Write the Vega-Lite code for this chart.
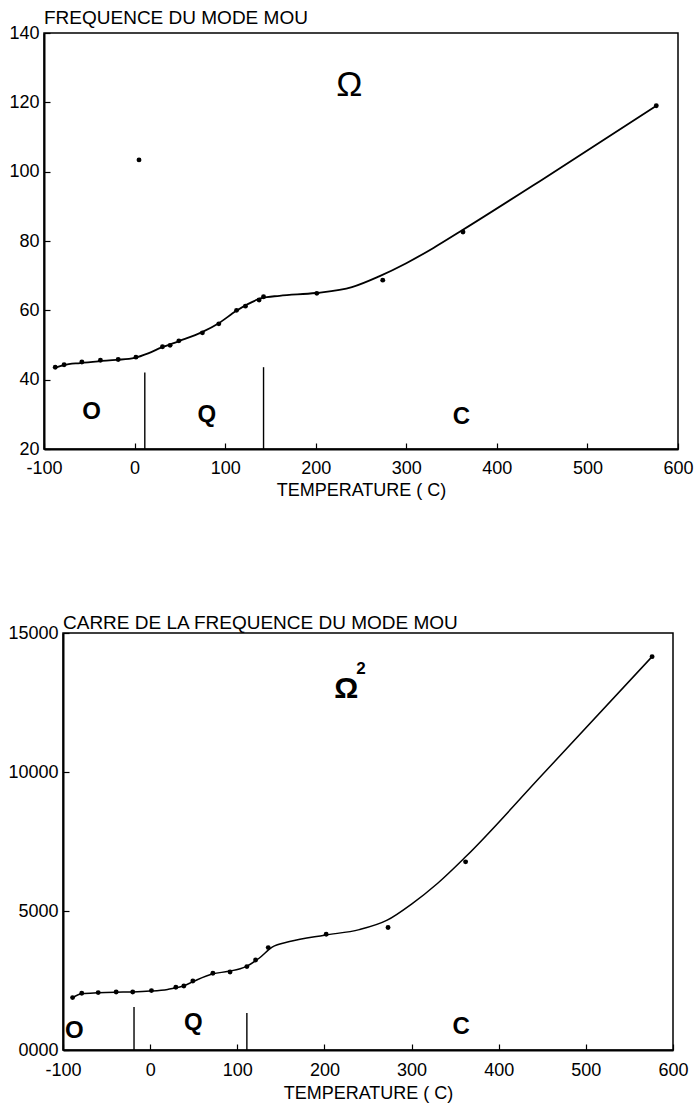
{
  "$schema": "https://vega.github.io/schema/vega-lite/v6.json",
  "background": "white",
  "padding": {"top": 8, "left": 0, "right": 4, "bottom": 2},
  "config": {
    "font": "Liberation Sans",
    "view": {"stroke": "black", "strokeWidth": 1.5},
    "axis": {
      "grid": false,
      "domainColor": "black",
      "domainWidth": 2,
      "tickColor": "black",
      "tickWidth": 1.2,
      "tickSize": -6,
      "labelColor": "black",
      "labelFont": "Liberation Sans",
      "labelFontSize": 18,
      "titleColor": "black",
      "titleFont": "Liberation Sans",
      "titleFontSize": 18,
      "titleFontWeight": "normal"
    },
    "title": {"anchor": "start", "frame": "group", "fontSize": 19, "fontWeight": "normal", "color": "black", "font": "Liberation Sans", "offset": -4}
  },
  "datasets": {
    "p1curve": [
      {"t": -88, "v": 43.4}, {"t": -78, "v": 44.2}, {"t": -60, "v": 44.8}, {"t": -40, "v": 45.3},
      {"t": -20, "v": 45.7}, {"t": 0, "v": 46.3}, {"t": 15, "v": 47.6}, {"t": 30, "v": 49.3},
      {"t": 50, "v": 51.2}, {"t": 75, "v": 53.8}, {"t": 93, "v": 56.3}, {"t": 112, "v": 59.8},
      {"t": 125, "v": 61.8}, {"t": 140, "v": 63.5}, {"t": 160, "v": 64.2}, {"t": 200, "v": 65.0},
      {"t": 240, "v": 66.7}, {"t": 270, "v": 69.8}, {"t": 300, "v": 73.6}, {"t": 330, "v": 78.0},
      {"t": 363, "v": 83.3}, {"t": 450, "v": 97.7}, {"t": 576, "v": 119.0}
    ],
    "p1pts": [
      {"t": -87.6, "v": 43.6}, {"t": -77.8, "v": 44.3}, {"t": -58.2, "v": 45.1}, {"t": -37.7, "v": 45.6},
      {"t": -18.1, "v": 45.8}, {"t": 1.5, "v": 46.5}, {"t": 30.8, "v": 49.5}, {"t": 39.2, "v": 49.9},
      {"t": 48.9, "v": 51.2}, {"t": 74.9, "v": 53.5}, {"t": 93, "v": 56.1}, {"t": 112.6, "v": 60.0},
      {"t": 122.4, "v": 61.2}, {"t": 137.5, "v": 63.0}, {"t": 142.4, "v": 63.9}, {"t": 201.2, "v": 64.9},
      {"t": 274, "v": 68.7}, {"t": 362.6, "v": 82.6}, {"t": 576, "v": 119.0}, {"t": 4.9, "v": 103.4}
    ],
    "p1rules": [
      {"t": 11.3, "v0": 20, "v1": 42.1},
      {"t": 142.4, "v0": 20, "v1": 43.6}
    ],
    "p1labels": [
      {"t": -47.5, "v": 30.7, "label": "O"},
      {"t": 79.8, "v": 29.8, "label": "Q"},
      {"t": 361, "v": 29.2, "label": "C"}
    ],
    "p1sym": [
      {"t": 237, "v": 125, "label": "Ω"}
    ],
    "p2curve": [
      {"t": -89, "v": 1880}, {"t": -78, "v": 2030}, {"t": -60, "v": 2060}, {"t": -40, "v": 2080},
      {"t": -20, "v": 2090}, {"t": 0, "v": 2120}, {"t": 20, "v": 2180}, {"t": 38, "v": 2300},
      {"t": 50, "v": 2470}, {"t": 72, "v": 2740}, {"t": 90, "v": 2830}, {"t": 110, "v": 3000},
      {"t": 125, "v": 3300}, {"t": 140, "v": 3700}, {"t": 160, "v": 3900}, {"t": 200, "v": 4130},
      {"t": 240, "v": 4330}, {"t": 272, "v": 4670}, {"t": 300, "v": 5250}, {"t": 330, "v": 6000},
      {"t": 362, "v": 6950}, {"t": 450, "v": 9900}, {"t": 576, "v": 14150}
    ],
    "p2pts": [
      {"t": -89, "v": 1884}, {"t": -78.5, "v": 2040}, {"t": -59.6, "v": 2064}, {"t": -39, "v": 2088},
      {"t": -20, "v": 2088}, {"t": 1.5, "v": 2136}, {"t": 29.5, "v": 2256}, {"t": 38.7, "v": 2304},
      {"t": 49, "v": 2484}, {"t": 72, "v": 2760}, {"t": 91.7, "v": 2808}, {"t": 111, "v": 3000},
      {"t": 121, "v": 3240}, {"t": 135.5, "v": 3684}, {"t": 202, "v": 4164}, {"t": 273, "v": 4404},
      {"t": 362, "v": 6768}, {"t": 576, "v": 14150}
    ],
    "p2rules": [
      {"t": -18.5, "v0": 0, "v1": 1550},
      {"t": 111, "v0": 0, "v1": 1330}
    ],
    "p2labels": [
      {"t": -87, "v": 700, "label": "O"},
      {"t": 49.5, "v": 970, "label": "Q"},
      {"t": 357, "v": 830, "label": "C"}
    ],
    "p2sym": [
      {"t": 225, "v": 13000, "label": "Ω"}
    ],
    "p2sup": [
      {"t": 242, "v": 13720, "label": "2"}
    ],
    "spacer": [
      {"k": 0}
    ]
  },
  "vconcat": [
    {
      "spacing": 0,
      "hconcat": [
        {
          "width": 1, "height": 1,
          "view": {"stroke": null},
          "data": {"name": "spacer"},
          "mark": {"type": "point", "opacity": 0},
          "encoding": {}
        },
        {
          "width": 634,
          "height": 416,
          "title": {"text": "FREQUENCE DU MODE MOU"},
          "layer": [
            {
              "data": {"name": "p1curve"},
              "mark": {"type": "line", "interpolate": "monotone", "color": "black", "strokeWidth": 1.8},
              "encoding": {
                "x": {"field": "t", "type": "quantitative",
                      "scale": {"domain": [-100, 600], "nice": false, "zero": false},
                      "axis": {"values": [-100, 0, 100, 200, 300, 400, 500, 600], "labelExpr": "datum.value < 0 ? '-' + abs(datum.value) : '' + datum.value", "title": "TEMPERATURE ( C)", "labelPadding": 16, "titlePadding": 4, "labelFlush": false}},
                "y": {"field": "v", "type": "quantitative",
                      "scale": {"domain": [20, 140], "nice": false, "zero": false},
                      "axis": {"values": [20, 40, 60, 80, 100, 120, 140], "title": null, "labelPadding": 11, "minExtent": 36, "maxExtent": 36, "labelFlush": false}}
              }
            },
            {
              "data": {"name": "p1pts"},
              "mark": {"type": "point", "filled": true, "color": "black", "size": 24, "opacity": 1},
              "encoding": {
                "x": {"field": "t", "type": "quantitative"},
                "y": {"field": "v", "type": "quantitative"}
              }
            },
            {
              "data": {"name": "p1rules"},
              "mark": {"type": "rule", "color": "black", "strokeWidth": 1.4},
              "encoding": {
                "x": {"field": "t", "type": "quantitative"},
                "y": {"field": "v0", "type": "quantitative"},
                "y2": {"field": "v1"}
              }
            },
            {
              "data": {"name": "p1labels"},
              "mark": {"type": "text", "font": "Liberation Sans", "fontSize": 24, "fontWeight": "bold", "color": "black", "baseline": "middle", "align": "center"},
              "encoding": {
                "x": {"field": "t", "type": "quantitative"},
                "y": {"field": "v", "type": "quantitative"},
                "text": {"field": "label"}
              }
            },
            {
              "data": {"name": "p1sym"},
              "mark": {"type": "text", "font": "Liberation Sans", "fontSize": 35, "fontWeight": "normal", "color": "black", "baseline": "middle", "align": "center"},
              "encoding": {
                "x": {"field": "t", "type": "quantitative"},
                "y": {"field": "v", "type": "quantitative"},
                "text": {"field": "label"}
              }
            }
          ]
        }
      ]
    },
    {
      "spacing": 0,
      "hconcat": [
        {
          "width": 1, "height": 1,
          "view": {"stroke": null},
          "data": {"name": "spacer"},
          "mark": {"type": "point", "opacity": 0},
          "encoding": {}
        },
        {
          "width": 610,
          "height": 417,
          "title": {"text": "CARRE DE LA FREQUENCE DU MODE MOU", "offset": -9},
          "layer": [
            {
              "data": {"name": "p2curve"},
              "mark": {"type": "line", "interpolate": "monotone", "color": "black", "strokeWidth": 1.5},
              "encoding": {
                "x": {"field": "t", "type": "quantitative",
                      "scale": {"domain": [-100, 600], "nice": false, "zero": false},
                      "axis": {"values": [-100, 0, 100, 200, 300, 400, 500, 600], "labelExpr": "datum.value < 0 ? '-' + abs(datum.value) : '' + datum.value", "title": "TEMPERATURE ( C)", "labelPadding": 17, "titlePadding": 5, "labelFlush": false}},
                "y": {"field": "v", "type": "quantitative",
                      "scale": {"domain": [0, 15000], "nice": false, "zero": false},
                      "axis": {"values": [0, 5000, 10000, 15000], "labelExpr": "datum.value === 0 ? '0000' : '' + datum.value", "title": null, "labelPadding": 11, "minExtent": 52, "maxExtent": 52, "labelFlush": false}}
              }
            },
            {
              "data": {"name": "p2pts"},
              "mark": {"type": "point", "filled": true, "color": "black", "size": 24, "opacity": 1},
              "encoding": {
                "x": {"field": "t", "type": "quantitative"},
                "y": {"field": "v", "type": "quantitative"}
              }
            },
            {
              "data": {"name": "p2rules"},
              "mark": {"type": "rule", "color": "black", "strokeWidth": 1.4},
              "encoding": {
                "x": {"field": "t", "type": "quantitative"},
                "y": {"field": "v0", "type": "quantitative"},
                "y2": {"field": "v1"}
              }
            },
            {
              "data": {"name": "p2labels"},
              "mark": {"type": "text", "font": "Liberation Sans", "fontSize": 24, "fontWeight": "bold", "color": "black", "baseline": "middle", "align": "center"},
              "encoding": {
                "x": {"field": "t", "type": "quantitative"},
                "y": {"field": "v", "type": "quantitative"},
                "text": {"field": "label"}
              }
            },
            {
              "data": {"name": "p2sym"},
              "mark": {"type": "text", "font": "Liberation Sans", "fontSize": 30, "fontWeight": "bold", "color": "black", "baseline": "middle", "align": "center"},
              "encoding": {
                "x": {"field": "t", "type": "quantitative"},
                "y": {"field": "v", "type": "quantitative"},
                "text": {"field": "label"}
              }
            },
            {
              "data": {"name": "p2sup"},
              "mark": {"type": "text", "font": "Liberation Sans", "fontSize": 17, "fontWeight": "bold", "color": "black", "baseline": "middle", "align": "center"},
              "encoding": {
                "x": {"field": "t", "type": "quantitative"},
                "y": {"field": "v", "type": "quantitative"},
                "text": {"field": "label"}
              }
            }
          ]
        }
      ]
    }
  ],
  "spacing": 113
}
